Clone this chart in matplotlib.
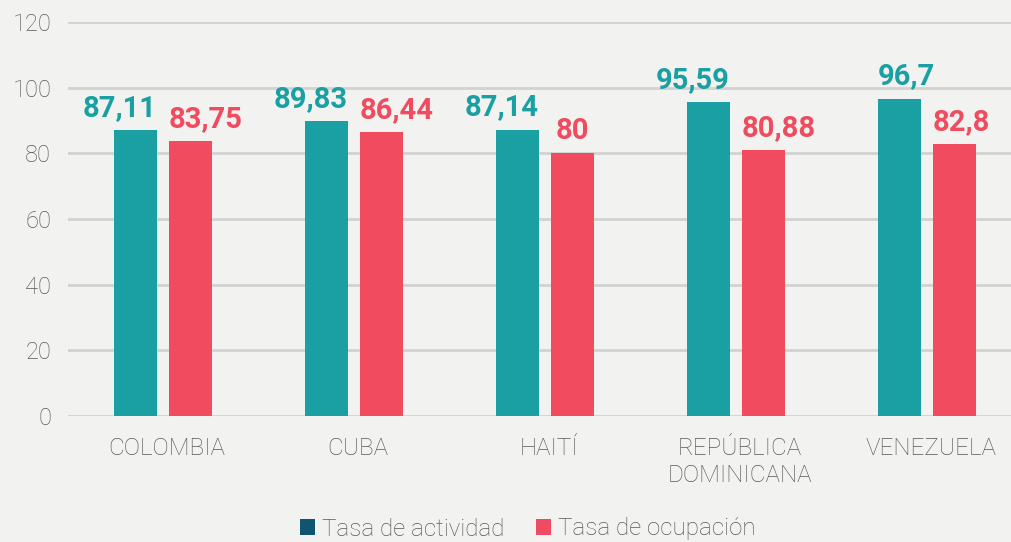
import matplotlib
matplotlib.use("Agg")
import matplotlib.pyplot as plt
from matplotlib.patches import Patch
import numpy as np

categories = ["COLOMBIA", "CUBA", "HAITÍ", "REPÚBLICA\nDOMINICANA", "VENEZUELA"]
actividad = [87.11, 89.83, 87.14, 95.59, 96.7]
ocupacion = [83.75, 86.44, 80, 80.88, 82.8]
labels_act = ["87,11", "89,83", "87,14", "95,59", "96,7"]
labels_ocu = ["83,75", "86,44", "80", "80,88", "82,8"]
yticks = [0, 20, 40, 60, 80, 100, 120]

teal = "#1a9fa3"
red = "#f04b5e"
legend_teal = "#0d5570"
bg = "#f2f2f0"
txt = "#595959"

plt.rcParams['font.family'] = ['Roboto', 'DejaVu Sans']

fig = plt.figure(figsize=(10.11, 5.42), dpi=100, facecolor=bg)
ax = fig.add_axes([68/1011, 1-416/542, (1011-68)/1011, (416-22)/542], facecolor=bg)

x = np.arange(len(categories))
w = 0.225
off_a = -0.167
off_o = 0.122
ax.bar(x + off_a, actividad, w, color=teal, zorder=3)
ax.bar(x + off_o, ocupacion, w, color=red, zorder=3)

# teal labels: right-aligned to bar right edge (last one left-aligned to bar left edge)
act_align = ["right", "right", "right", "right", "left"]
for xi, v, l, a in zip(x + off_a, actividad, labels_act, act_align):
    xa = xi + w / 2 if a == "right" else xi - w / 2
    ax.annotate(l, (xa, v), xytext=(0, 6), textcoords="offset points",
                ha=a, va="bottom", color=teal, fontsize=21, fontweight="bold")
for xi, v, l in zip(x + off_o, ocupacion, labels_ocu):
    xa = xi - w / 2
    ha = "left"
    if l == "80":
        xa = xi
        ha = "center"
    ax.annotate(l, (xa, v), xytext=(0, 6), textcoords="offset points",
                ha=ha, va="bottom", color=red, fontsize=21, fontweight="bold")

ax.set_ylim(0, 120)
ax.set_xlim(-0.518, 4.419)
ax.set_yticks(yticks)
ax.set_yticklabels([str(t) for t in yticks], fontsize=17, color=txt, fontweight="light")
ax.set_xticks(x)
ax.set_xticklabels(categories, fontsize=17.5, color=txt, fontweight="light", linespacing=1.25)
ax.tick_params(axis="both", length=0, pad=12)
ax.tick_params(axis="x", pad=15)
ax.grid(axis="y", color="#d2d2d2", linewidth=2, zorder=0)
for s in ax.spines.values():
    s.set_visible(False)

handles = [Patch(facecolor=legend_teal), Patch(facecolor=red)]
leg = fig.legend(handles, ["Tasa de actividad", "Tasa de ocupación"], loc="center",
                 bbox_to_anchor=(528/1011, 1-529/542), ncol=2, frameon=False,
                 fontsize=17.4, handlelength=0.62, handleheight=0.62, handletextpad=0.3,
                 columnspacing=1.3)
for t in leg.get_texts():
    t.set_color(txt)
    t.set_fontweight("light")

fig.savefig("out.png", dpi=100, facecolor=bg)
